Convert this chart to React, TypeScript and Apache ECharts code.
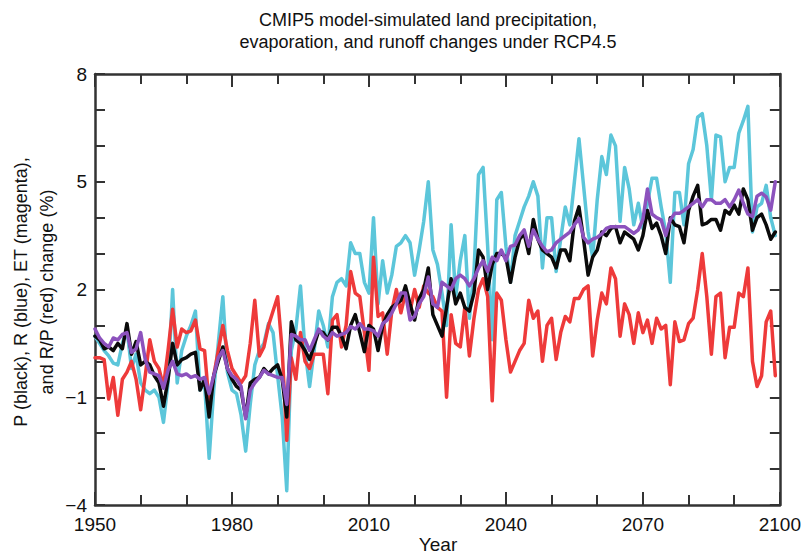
import React, { useEffect, useRef } from "react";
import * as echarts from "echarts";

const START_YEAR = 1950;
const X_TICKS = [1950, 1980, 2010, 2040, 2070, 2100];
const Y_TICKS = [-4, -1, 2, 5, 8];
const Y_OFFSET = 4; // internal axis runs 0..12 so that ticks fall on -4,-1,2,5,8

// P (black), 1950-2099
const precip = [
  0.7, 0.6, 0.35, 0.4, 0.3, 0.5, 0.35, 1.05, 0.2, 0.55,
  -0.1, 0.0, -0.1, -0.4, -0.6, -1.25, -0.5, 0.5, -0.1, 0.05,
  0.1, 0.2, 0.25, -0.8, -0.5, -1.55, -0.4, 0.0, 0.4, -0.2,
  -0.5, -0.7, -0.8, -1.55, -0.6, -0.5, -0.45, -0.2, -0.35, -0.2,
  -0.1, -0.5, -1.55, 1.1, 0.6, 0.5, 0.3, 0.05, 0.45, 0.85,
  0.8, 0.6, 0.95, 0.95, 0.7, 0.35, 1.0, 1.3, 0.8, 0.27,
  1.0, 0.9, 0.3, 1.0, 1.3, 1.5, 1.6, 1.7, 2.1, 1.6,
  1.15, 1.75, 2.0, 2.6, 1.3, 1.0, 0.7, 1.5, 2.3, 1.6,
  1.9, 1.5, 1.4, 1.9, 3.1, 2.9, 2.0, 2.7, 3.0, 3.0,
  2.9, 2.2, 2.9, 3.4, 3.55, 3.0, 3.95, 3.4, 3.1, 3.0,
  2.9, 2.6, 3.1, 3.1, 2.8, 3.9, 4.3, 3.4, 2.4, 2.9,
  3.1, 3.6, 3.5, 3.7, 3.75, 3.3, 3.6, 3.5, 3.4, 3.1,
  3.5, 4.2, 3.7, 3.85, 3.5, 3.0, 4.0, 3.8, 3.75, 3.3,
  4.2, 4.6, 4.9, 3.8, 3.85, 3.95, 3.95, 3.65, 4.2, 4.1,
  4.35, 4.1, 4.8, 4.5, 3.65, 4.0, 4.1, 3.8, 3.4, 3.6,
];

// R/P (red), 1950-2099
const ratio = [
  0.1, 0.1, 0.05, -1.05, -0.45, -1.5, -0.5, -0.3, 0.0, -0.5,
  -1.35, -0.4, 0.6, 0.0, -0.2, -0.7, 0.3, 1.45, 0.4, 0.9,
  0.8, 0.85, 1.15, 0.35, 0.3, -1.2, -0.4, 0.3, 1.0, 0.3,
  -0.2, -0.4, -0.6, -0.4, 0.5, 1.7, 0.15, 0.4, 1.0, 1.4,
  1.8, 0.3, -2.2, 0.1, -0.5, 0.8, 0.0, -0.2, 0.2, 0.2,
  0.2, -0.9, 1.15, 1.3, 0.4, 1.0, 2.5, 1.9, 1.8, 0.8,
  -0.25, 2.9, 1.25, 1.35, 0.2, 1.4, 2.0, 1.35, 1.9, 1.4,
  2.0, 1.5, 2.1, 1.9, 1.8, 1.5, 1.4, -1.0, 1.3, 0.5,
  0.4, 1.5, 0.15, 1.2, 2.0, 2.3, 1.8, -1.1, 1.9, 1.7,
  0.6, -0.3, 0.0, 0.3, 0.5, 1.7, 1.2, 1.4, 0.0, 1.0,
  1.2, 0.05, 0.8, 1.25, 1.1, 1.75, 1.75, 2.0, 2.1, 0.15,
  1.15, 1.9, 1.6, 2.6, 2.3, 0.7, 1.6, 1.3, 0.5, 1.35,
  0.8, 1.15, 0.5, 1.2, 0.9, 1.0, -0.65, 1.1, 0.55, 0.6,
  1.05, 1.2, 2.0, 3.0, 1.8, 0.2, 1.8, 1.9, 0.1, 0.95,
  0.95, 1.9, 1.8, 2.6, 0.0, -0.7, -0.4, 1.1, 1.4, -0.4,
];

// R (blue), 1950-2099
const runoff = [
  0.7, 0.5, 0.3, 0.15, -0.05, -0.1, 0.5, 0.9, -0.2, 0.2,
  -0.6, -0.8, -0.9, -0.8, -1.0, -1.7, -0.6, 2.0, -0.6, 0.3,
  0.7, 1.0, 1.4, -0.8, -0.6, -2.7, -0.8, 0.5, 1.8, -0.3,
  -0.8, -0.9, -1.5, -2.5, -1.2, -0.1, 0.3, 0.5, 1.05, 0.8,
  -0.4, -1.55, -3.6, 0.3, 0.9, 2.1, 0.3, -0.7, 0.3, 1.4,
  1.0, 0.4, 1.8, 2.2, 2.3, 2.1, 3.3, 3.0, 3.0, 2.2,
  1.9, 4.0, 1.6, 2.8, 1.9, 2.4, 3.2, 3.3, 3.5, 3.3,
  2.4, 3.1, 3.9, 5.0, 3.1, 2.7, 1.9, 1.0, 3.8, 1.8,
  2.8, 3.5, 1.2, 2.5, 5.2, 5.4, 3.2, 0.6, 4.5, 4.7,
  3.2, 2.2, 3.5, 3.9, 4.3, 4.6, 5.0, 4.6, 2.6, 4.0,
  4.0, 2.5, 3.4, 4.3, 3.8, 5.0, 6.2, 4.9, 3.6, 2.9,
  4.5, 5.7, 5.2, 6.3, 6.0, 3.9, 5.4, 4.8, 3.8, 4.4,
  3.7, 4.4, 5.1, 5.1, 4.3, 3.6, 2.2, 4.7, 4.7, 3.8,
  5.5, 5.9, 6.8, 6.9, 6.0, 4.5, 6.3, 6.25, 5.0, 5.4,
  5.4, 6.35, 6.7, 7.1, 3.6, 4.3, 4.4, 4.9, 4.0, 3.5,
];

// ET (magenta), 1950-2099
const evap = [
  0.9, 0.65, 0.5, 0.4, 0.65, 0.6, 0.75, 0.8, 0.25, 0.35,
  0.8, 0.05, -0.3, -0.35, -0.4, -0.75, -0.25, 0.0, -0.35, -0.4,
  -0.35, -0.45, -0.4, -0.5, -0.45, -0.9, -0.4, 0.1, 0.3, -0.2,
  -0.4, -0.5, -0.7, -1.6, -0.8, -0.6, -0.45, -0.25, -0.35, -0.4,
  -0.45, -0.45, -1.2, 0.75, 0.7, 0.6, 0.6, 0.3, 0.6, 0.9,
  0.7, 0.6, 0.8, 0.7, 0.75, 0.8, 0.97, 0.9, 1.05, 0.9,
  0.9, 0.85, 0.7, 1.05, 1.15, 1.35, 1.6, 1.9, 1.9, 1.15,
  1.25, 1.6, 1.8, 2.35, 1.6, 1.5, 2.2, 2.1, 2.0, 2.3,
  2.4, 2.3, 2.1, 2.3, 2.6, 2.8, 2.5, 2.9, 2.8, 3.1,
  2.8, 3.2, 3.24, 3.5, 3.66, 3.2, 3.66, 3.4, 3.2, 3.05,
  3.1, 3.3, 3.4, 3.5, 3.6, 3.8, 3.98, 3.45, 3.3, 3.4,
  3.45, 3.55, 3.7, 3.75, 3.75, 3.75, 3.75, 3.66, 3.56, 3.66,
  3.95, 4.8, 4.1, 4.0, 3.94, 3.5, 3.94, 4.12, 4.12, 4.2,
  4.3, 4.4, 4.5, 4.3, 4.5, 4.5, 4.4, 4.4, 4.5, 4.3,
  4.5, 4.77, 4.4, 4.1, 4.03, 4.6, 4.68, 4.58, 4.21, 5.0,
];

const TITLE_LINES = [
  "CMIP5 model-simulated land precipitation,",
  "evaporation, and runoff changes under RCP4.5",
];
const Y_NAME_LINES = ["P (black), R (blue), ET (magenta),", "and R/P (red) change (%)"];
const X_NAME = "Year";

const FONT = "'Liberation Sans', Arial, Helvetica, sans-serif";
const AXIS_COLOR = "#333";
const TEXT_COLOR = "#111";

function toPairs(values: number[]) {
  return values.map((v, i) => [START_YEAR + i, v + Y_OFFSET]);
}

function fmtY(v: number) {
  const real = Math.round(v - Y_OFFSET);
  if (!Y_TICKS.includes(real)) return "";
  return real < 0 ? "\u2212" + Math.abs(real) : String(real);
}

export default function App() {
  const ref = useRef<HTMLDivElement>(null);

  useEffect(() => {
    if (!ref.current) return;
    const chart = echarts.init(ref.current, undefined, { renderer: "svg" });

    const baseX = {
      type: "value" as const,
      min: X_TICKS[0],
      max: X_TICKS[X_TICKS.length - 1],
      interval: 30,
      splitLine: { show: false },
      axisLine: { show: true, onZero: false, lineStyle: { color: AXIS_COLOR, width: 2.5 } },
      axisTick: { show: true, inside: true, length: 13, lineStyle: { color: AXIS_COLOR, width: 2 } },
      minorTick: { show: true, splitNumber: 3, length: 10, lineStyle: { color: AXIS_COLOR, width: 2 } },
      minorSplitLine: { show: false },
    };
    const baseY = {
      type: "value" as const,
      min: 0,
      max: 12,
      interval: 3,
      splitLine: { show: false },
      axisLine: { show: true, onZero: false, lineStyle: { color: AXIS_COLOR, width: 2.5 } },
      axisTick: { show: true, inside: true, length: 10, lineStyle: { color: AXIS_COLOR, width: 2 } },
      minorTick: { show: true, splitNumber: 3, length: 10, lineStyle: { color: AXIS_COLOR, width: 2 } },
      minorSplitLine: { show: false },
    };

    const mk = (name: string, values: number[], color: string, z: number) => ({
      name,
      type: "line" as const,
      xAxisIndex: 0,
      yAxisIndex: 0,
      data: toPairs(values),
      showSymbol: false,
      symbol: "none",
      smooth: false,
      z,
      lineStyle: { color, width: 3.5, join: "round", cap: "round" },
      itemStyle: { color },
    });

    chart.setOption({
      animation: false,
      backgroundColor: "#ffffff",
      grid: { left: 95, right: 21, top: 74, bottom: 50, containLabel: false },
      xAxis: [
        {
          ...baseX,
          position: "bottom",
          axisLabel: {
            show: true,
            fontSize: 19,
            color: TEXT_COLOR,
            fontFamily: FONT,
            margin: 10,
            formatter: (v: number) => String(v),
          },
        },
        { ...baseX, position: "top", axisLabel: { show: false } },
      ],
      yAxis: [
        {
          ...baseY,
          position: "left",
          axisLabel: {
            show: true,
            fontSize: 19,
            color: TEXT_COLOR,
            fontFamily: FONT,
            margin: 8,
            formatter: fmtY,
          },
        },
        { ...baseY, position: "right", axisLabel: { show: false } },
      ],
      series: [
        mk("R", runoff, "#5CC6DA", 2),
        mk("R/P", ratio, "#EE3A3A", 3),
        mk("P", precip, "#0a0a0a", 4),
        mk("ET", evap, "#8C52BD", 5),
      ],
      graphic: [
        {
          type: "text",
          x: 428,
          y: 20,
          style: {
            text: TITLE_LINES[0],
            fontSize: 18,
            fontFamily: FONT,
            fill: TEXT_COLOR,
            textAlign: "center",
            textVerticalAlign: "middle",
          },
        },
        {
          type: "text",
          x: 428,
          y: 42,
          style: {
            text: TITLE_LINES[1],
            fontSize: 18,
            fontFamily: FONT,
            fill: TEXT_COLOR,
            textAlign: "center",
            textVerticalAlign: "middle",
          },
        },
        {
          type: "text",
          x: 21,
          y: 292,
          rotation: Math.PI / 2,
          style: {
            text: Y_NAME_LINES[0],
            fontSize: 18,
            fontFamily: FONT,
            fill: TEXT_COLOR,
            textAlign: "center",
            textVerticalAlign: "middle",
          },
        },
        {
          type: "text",
          x: 47,
          y: 292,
          rotation: Math.PI / 2,
          style: {
            text: Y_NAME_LINES[1],
            fontSize: 18,
            fontFamily: FONT,
            fill: TEXT_COLOR,
            textAlign: "center",
            textVerticalAlign: "middle",
          },
        },
        {
          type: "text",
          x: 438,
          y: 544,
          style: {
            text: X_NAME,
            fontSize: 19,
            fontFamily: FONT,
            fill: TEXT_COLOR,
            textAlign: "center",
            textVerticalAlign: "middle",
          },
        },
      ],
    });

    return () => chart.dispose();
  }, []);

  return (
    <div
      ref={ref}
      style={{ position: "fixed", left: 0, top: 0, width: 804, height: 555, background: "#fff" }}
    />
  );
}
